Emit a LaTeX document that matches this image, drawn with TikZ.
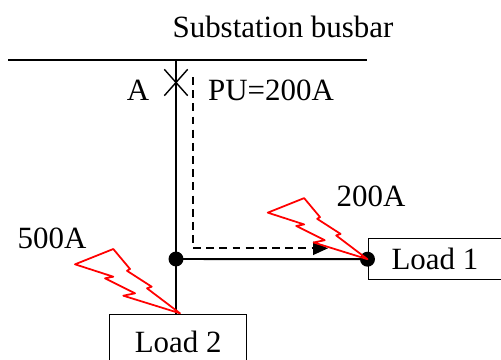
\documentclass[tikz,border=0pt]{standalone}
\usepackage{fontspec}
\setmainfont{Liberation Serif}
\usetikzlibrary{arrows.meta,shapes.misc}
\tikzset{
  dot/.style={circle,fill,inner sep=0pt,minimum size=8.5pt},
  load/.style={draw,line width=0.8pt,inner xsep=0pt,inner ysep=0pt,anchor=north west},
  lbl/.style={inner sep=0pt,anchor=base},
  zap/.pic={\draw[red,line width=1pt,line join=round] (-105,-49) -- (-66.7,-64.3) -- (-50,-44.3) -- (-53,-42.5)
      -- (-28.3,-26.6) -- (-33,-25) -- (0,0) -- (-56.7,-17.6) -- (-45,-20) -- (-75,-35) -- (-66.7,-36.6) -- cycle;}
}
\begin{document}
\begin{tikzpicture}[x=0.02cm,y=-0.02cm,line width=1.1pt,
    every node/.style={font=\fontsize{17.6}{21}\selectfont}]
  \useasboundingbox (0,0) rectangle (501,359);
  % busbar
  \coordinate (busW) at (8,60);
  \coordinate (busE) at (367,60);
  \coordinate (busA) at (176,60);
  \draw (busW) -- (busE);
  \node[lbl] (bustext) at (283,37) {Substation busbar};
  % breaker and feeder
  \node[cross out,draw,line width=0.8pt,inner sep=0pt,minimum width=0.44cm,minimum height=0.5cm] (brk) at (176,82.5) {};
  \node[lbl] (lblA) at (138,100) {A};
  \node[lbl] (lblPU) at (271,100) {PU=200A};
  \node[dot] (J) at (176,259) {};
  \node[load,minimum width=2.67cm,text height=0.606cm,text depth=0.214cm] (load1) at (367.5,238) {Load 1};
  \node[load,minimum width=2.74cm,text height=0.754cm,text depth=0.35cm] (load2) at (109,314) {Load 2};
  \node[dot] (D1) at (load1.west) {};
  \draw (busA) -- (J.center) -- (J |- load2.north);
  \draw (J.center) -- (D1.center);
  % pickup current path
  \coordinate (puS) at (193,77);
  \coordinate (puE) at (328,248.3);
  \draw[line width=1pt,dash pattern=on 4.5pt off 3pt,-{Triangle[length=8.5pt,width=7.5pt]}] (puS) |- (puE);
  % faults
  \pic[scale=0.95] at (D1) {zap};
  \pic at (180,313.3) {zap};
  \node[lbl] (lbl200) at (371,206.7) {200A};
  \node[lbl] (lbl500) at (52,248.3) {500A};
\end{tikzpicture}
\end{document}
